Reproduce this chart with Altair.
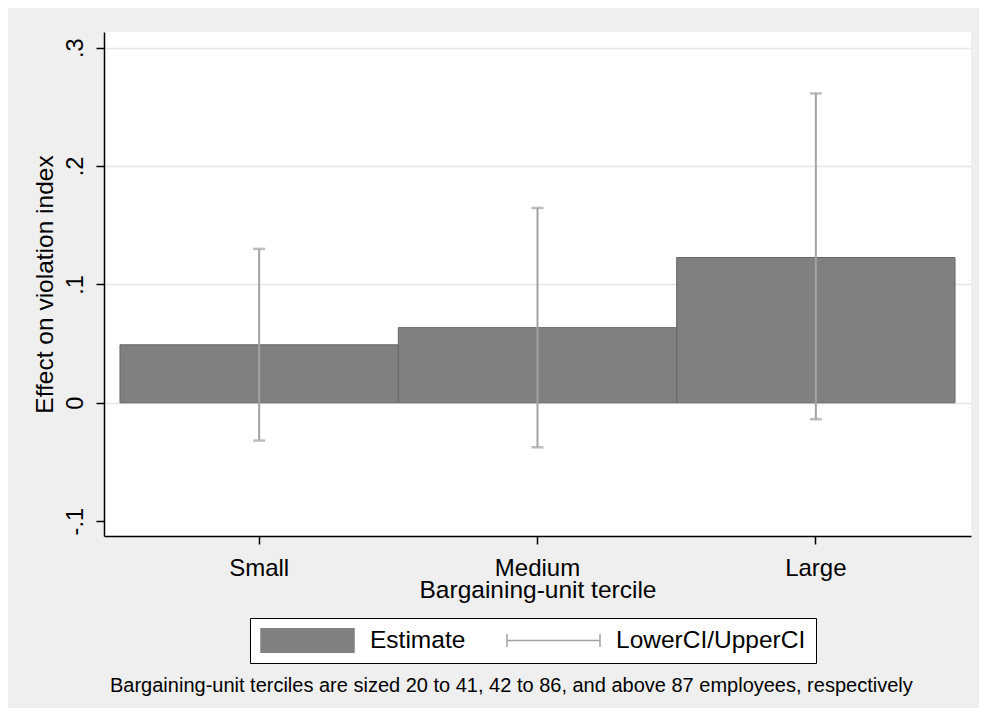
import altair as alt
import pandas as pd

# ---- data ----
categories = ["Small", "Medium", "Large"]
estimate = [0.049, 0.0635, 0.1227]
lower_ci = [-0.0319, -0.0376, -0.0139]
upper_ci = [0.130, 0.1646, 0.2613]
series_names = ["Estimate", "LowerCI/UpperCI"]
y_ticks = [-0.1, 0.0, 0.1, 0.2, 0.3]
note_text = ("Bargaining-unit terciles are sized 20 to 41, 42 to 86, "
             "and above 87 employees, respectively")

df = pd.DataFrame({"tercile": categories, "est": estimate,
                   "lo": lower_ci, "hi": upper_ci})

FONT = "Liberation Sans, Arial, sans-serif"
BAR_FILL = "#808080"
BAR_EDGE = "#666666"
CI_COL = "#a3a3a3"

RECT_PATH = "M-1,-0.265H1V0.265H-1Z"
ERR_PATH = "M-1,0H1M-1,-0.14V0.14M1,-0.14V0.14"
is_est = "datum.value === 'Estimate'"

color_scale = alt.Scale(domain=series_names, range=[BAR_FILL, CI_COL])

common_legend = dict(
    title=None, orient="none", legendX=146, legendY=586,
    direction="horizontal", columns=2,
    labelFont=FONT, labelFontSize=24.5, labelColor="black", labelLimit=0,
    labelOffset=15, columnPadding=40, padding=10,
    strokeColor="black", fillColor="white",
    symbolSize=8649, symbolStrokeWidth=1.5, symbolOpacity=1,
    clipHeight=25,
)


def build(legend):
    x_enc = alt.X(
        "tercile:N", sort=categories,
        scale=alt.Scale(paddingInner=0, paddingOuter=0.0574),
        axis=alt.Axis(
            title="Bargaining-unit tercile", labelAngle=0, bandPosition=0.5,
            labelFont=FONT, labelFontSize=24, labelColor="black",
            labelBaseline="alphabetic", labelPadding=31,
            tickSize=8, tickColor="black", tickWidth=1.5,
            domainColor="black", domainWidth=1.5,
            titleFont=FONT, titleFontSize=24.5, titleFontWeight="normal", titleColor="black",
            titleX=433.5, titleY=61.5, titleAlign="center", titleBaseline="alphabetic",
            grid=False,
        ),
    )

    y_scale = alt.Scale(domain=[-0.1125, 0.3132], nice=False, zero=False)
    y_axis = alt.Axis(
        title="Effect on violation index", values=y_ticks,
        labelExpr="datum.value == 0 ? '0' : (datum.value < 0 ? '-.' : '.') + round(abs(datum.value) * 10)",
        labelAngle=270, labelAlign="center", labelBaseline="alphabetic",
        labelFont=FONT, labelFontSize=23.5, labelColor="black", labelPadding=14,
        tickSize=8, tickColor="black", tickWidth=1.5,
        domainColor="black", domainWidth=1.5,
        grid=True, gridWidth=1.5,
        gridColor={"condition": {"test": "datum.value < 0", "value": "#ffffff"}, "value": "#e6e6e6"},
        titleFont=FONT, titleFontSize=24.5, titleFontWeight="normal", titleColor="black",
        titleAngle=270, titleAlign="center", titleBaseline="alphabetic",
        titleX=-52, titleY=252,
    )

    base = alt.Chart(df)

    bars = base.transform_calculate(series="'Estimate'").mark_bar(
        stroke=BAR_EDGE, strokeWidth=1
    ).encode(
        x=x_enc,
        y=alt.Y("est:Q", scale=y_scale, axis=y_axis),
        color=alt.Color("series:N", scale=color_scale, legend=legend),
    )

    ci_line = base.transform_calculate(series="'LowerCI/UpperCI'").mark_rule(
        strokeWidth=2
    ).encode(
        x=alt.X("tercile:N", sort=categories),
        y=alt.Y("lo:Q"),
        y2="hi:Q",
        color=alt.Color("series:N", scale=color_scale, legend=legend),
    )

    cap_lo = base.transform_calculate(series="'LowerCI/UpperCI'").mark_tick(
        size=12, thickness=2.5
    ).encode(
        x=alt.X("tercile:N", sort=categories),
        y=alt.Y("lo:Q"),
        color=alt.Color("series:N", scale=color_scale, legend=legend),
    )

    cap_hi = base.transform_calculate(series="'LowerCI/UpperCI'").mark_tick(
        size=12, thickness=2.5
    ).encode(
        x=alt.X("tercile:N", sort=categories),
        y=alt.Y("hi:Q"),
        color=alt.Color("series:N", scale=color_scale, legend=legend),
    )

    return alt.layer(bars, ci_line, cap_lo, cap_hi).properties(
        width=867, height=504,
        autosize=alt.AutoSizeParams(type="none"),
        padding={"left": 96, "top": 24, "right": 8, "bottom": 172},
        background="#efefef",
        title=alt.TitleParams(
            text=note_text, orient="bottom", anchor="start", frame="group",
            font=FONT, fontSize=20, fontWeight="normal", color="black",
            baseline="alphabetic", offset=28, dx=6,
        ),
    ).configure_view(stroke=None, fill="white")


try:
    legend = alt.Legend(
        symbolType=alt.ExprRef(expr=f"{is_est} ? '{RECT_PATH}' : '{ERR_PATH}'"),
        symbolStrokeColor=alt.ExprRef(expr=f"{is_est} ? '{BAR_EDGE}' : '{CI_COL}'"),
        **common_legend,
    )
    chart = build(legend)
    chart.to_dict()
except Exception as err:  # fallback if the schema refuses expressions
    import sys
    print("fallback:", str(err)[:300], file=sys.stderr)
    legend = alt.Legend(symbolType=RECT_PATH, **common_legend)
    chart = build(legend)

chart.save("out.html", embed_options={"renderer": "svg", "actions": False})
